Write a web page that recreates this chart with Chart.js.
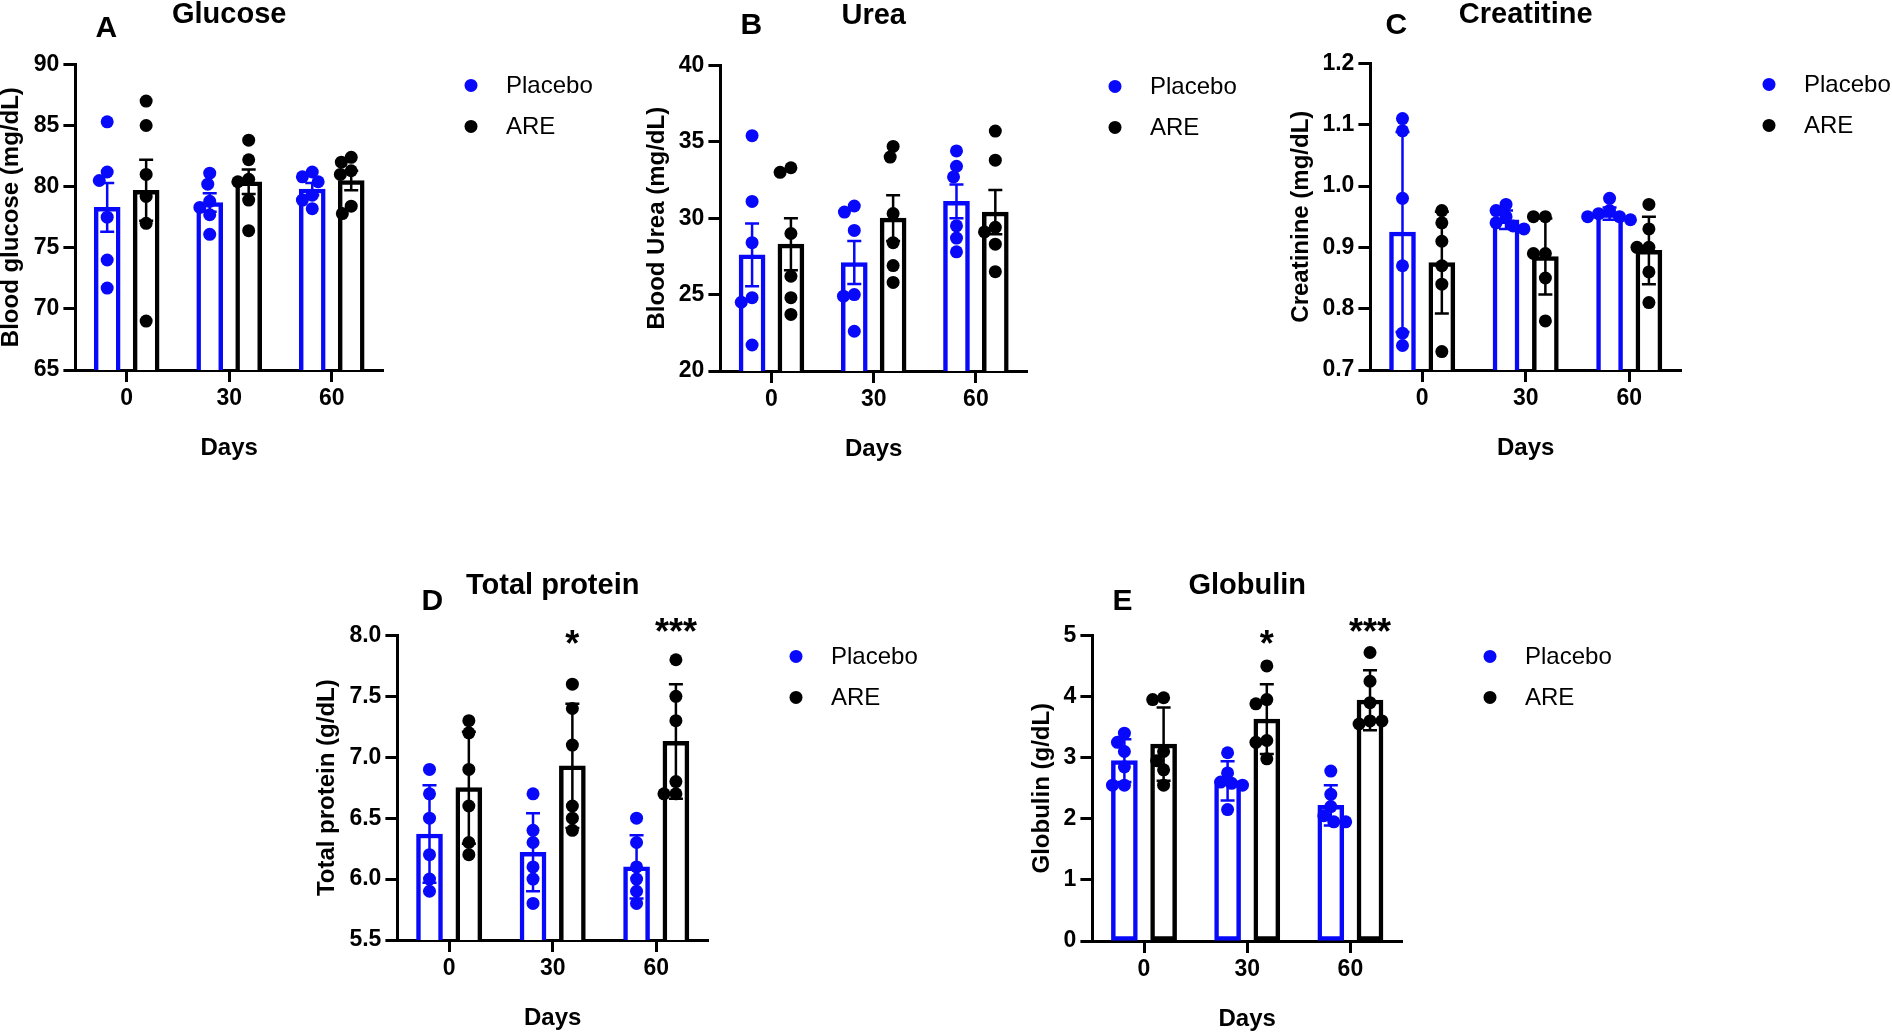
<!DOCTYPE html>
<html>
<head>
<meta charset="utf-8">
<script src="https://cdn.jsdelivr.net/npm/chart.js@4.4.1/dist/chart.umd.min.js"></script>
<style>
  body { margin: 0; background: #fff; }
  #fig { position: relative; width: 1892px; height: 1033px; overflow: hidden; background: #fff; }
  #fig canvas { position: absolute; }
</style>
</head>
<body>
<div id="fig"></div>
<script>
// categories
var days = ['0', '30', '60'];

// A - glucose (mean +/- SEM)
var glucoseMeanPlacebo = [78.3, 78.7, 79.8];
var glucoseErrPlacebo = [2.0, 0.75, 0.5];
var glucoseMeanARE = [79.7, 80.4, 80.5];
var glucoseErrARE = [2.5, 1.0, 0.8];
var glucosePtsPlacebo = [[85.3, 81.2, 80.5, 77.5, 74.0, 71.7], [81.1, 80.2, 78.8, 78.3, 77.7, 76.1], [81.2, 80.8, 80.4, 79.3, 78.9, 78.2]];
var glucosePtsARE = [[87.0, 85.0, 81.0, 79.2, 77.0, 69.0], [83.8, 82.2, 80.6, 80.4, 78.9, 76.4], [82.4, 82.0, 81.3, 81.0, 78.4, 77.8]];

// B - urea
var ureaMeanPlacebo = [27.6, 27.1, 31.1];
var ureaErrPlacebo = [2.05, 1.4, 1.1];
var ureaMeanARE = [28.3, 30.0, 30.4];
var ureaErrARE = [1.7, 1.5, 1.45];
var ureaPtsPlacebo = [[35.4, 31.1, 28.4, 24.8, 24.5, 21.7], [30.8, 30.4, 29.2, 25.0, 24.9, 22.6], [34.4, 33.4, 32.7, 29.5, 28.7, 27.8]];
var ureaPtsARE = [[33.3, 33.0, 29.0, 26.2, 24.8, 23.7], [34.7, 34.0, 30.3, 28.4, 26.9, 25.8], [35.7, 33.8, 29.4, 29.1, 28.3, 26.5]];

// C - creatinine (mean +/- SD)
var creaMeanPlacebo = [0.925, 0.945, 0.955];
var creaErrPlacebo = [0.163, 0.015, 0.01];
var creaMeanARE = [0.875, 0.885, 0.895];
var creaErrARE = [0.083, 0.062, 0.055];
var creaPtsPlacebo = [[1.11, 1.09, 0.98, 0.87, 0.76, 0.74], [0.97, 0.96, 0.95, 0.94, 0.935, 0.93], [0.98, 0.96, 0.955, 0.95, 0.95, 0.945]];
var creaPtsARE = [[0.96, 0.94, 0.91, 0.87, 0.84, 0.73], [0.95, 0.95, 0.89, 0.89, 0.85, 0.78], [0.97, 0.93, 0.90, 0.90, 0.86, 0.81]];

// D - total protein
var protMeanPlacebo = [6.37, 6.22, 6.10];
var protErrPlacebo = [0.40, 0.32, 0.26];
var protMeanARE = [6.75, 6.93, 7.13];
var protErrARE = [0.46, 0.51, 0.47];
var protPtsPlacebo = [[6.9, 6.7, 6.5, 6.2, 6.0, 5.9], [6.7, 6.4, 6.3, 6.1, 6.0, 5.8], [6.5, 6.3, 6.1, 6.0, 5.9, 5.8]];
var protPtsARE = [[7.3, 7.2, 6.9, 6.6, 6.3, 6.2], [7.6, 7.4, 7.1, 6.6, 6.5, 6.4], [7.8, 7.5, 7.3, 6.8, 6.7, 6.7]];
var protStars = ['', '*', '***'];

// E - globulin
var globMeanPlacebo = [2.95, 2.62, 2.22];
var globErrPlacebo = [0.35, 0.32, 0.33];
var globMeanARE = [3.22, 3.63, 3.94];
var globErrARE = [0.60, 0.57, 0.49];
var globPtsPlacebo = [[3.4, 3.25, 3.1, 2.85, 2.55, 2.55], [3.08, 2.75, 2.6, 2.58, 2.55, 2.15], [2.78, 2.4, 2.2, 2.05, 1.95, 1.95]];
var globPtsARE = [[3.98, 3.95, 3.1, 2.95, 2.8, 2.55], [4.5, 3.95, 3.88, 3.28, 3.25, 2.98], [4.72, 4.25, 3.9, 3.6, 3.55, 3.6]];
var globStars = ['', '*', '***'];

var BLUE = 'rgb(8, 8, 250)';
var BLACK = '#000';
var FONT = '"Liberation Sans", Arial, sans-serif';
var SHIFT = 0.19;          // bar centre offset from the day tick, in category units
var BAR_W = 26;
var DOT_R = 6.5;
var TITLE_LH = 29 * 1.2, YTITLE_LH = 24 * 1.2, X_AXIS_H = 93;

Chart.defaults.font.family = FONT;
Chart.defaults.color = '#000';

// spread overlapping dots sideways (rough beeswarm, plot is ~305px tall, a group ~104px wide)
function swarm(values, min, max) {
  var pxPerUnit = 305 / (max - min);
  var placed = [];
  return values.map(function (v) {
    var y = v * pxPerUnit, dx = 0;
    for (var d = 0; d <= 24; d++) {
      var hit = [-d, d].find(function (c) {
        return placed.every(function (p) { return Math.hypot(p.x - c, p.y - y) >= DOT_R * 1.7; });
      });
      if (hit !== undefined) { dx = hit; break; }
    }
    placed.push({ x: dx, y: y });
    return dx / 104;
  });
}

function pointsFor(groups, side, min, max) {
  var out = [];
  groups.forEach(function (vals, i) {
    var offs = swarm(vals, min, max);
    vals.forEach(function (v, k) {
      out.push({ x: i + side * SHIFT + offs[k], y: v });
    });
  });
  return out;
}

function barsFor(means, side) {
  return means.map(function (m, i) { return { x: i + side * SHIFT, y: m }; });
}

var errorBars = {
  id: 'errorBars',
  afterDatasetDraw: function (chart, args) {
    var ds = chart.data.datasets[args.index];
    if (!ds.errors) return;
    var ctx = chart.ctx, y = chart.scales.y;
    ctx.save();
    ctx.strokeStyle = ds.borderColor;
    ctx.lineWidth = 2.5;
    args.meta.data.forEach(function (bar, i) {
      var m = ds.data[i].y;
      var hi = y.getPixelForValue(m + ds.errors[i]);
      var lo = y.getPixelForValue(m - ds.errors[i]);
      ctx.beginPath();
      ctx.moveTo(bar.x, hi); ctx.lineTo(bar.x, lo);
      ctx.moveTo(bar.x - 7, hi); ctx.lineTo(bar.x + 7, hi);
      ctx.moveTo(bar.x - 7, lo); ctx.lineTo(bar.x + 7, lo);
      ctx.stroke();
    });
    ctx.restore();
  }
};

var panelDecor = {
  id: 'panelDecor',
  afterDraw: function (chart, args, opts) {
    var a = chart.chartArea, ctx = chart.ctx;
    ctx.save();
    ctx.fillStyle = '#000';
    ctx.textBaseline = 'middle';
    ctx.textAlign = 'center';
    ctx.font = 'bold 30px ' + FONT;
    ctx.fillText(opts.letter, a.left + opts.letterDx, a.top + opts.letterDy);

    // legend
    ctx.textAlign = 'left';
    ctx.font = '24px ' + FONT;
    chart.data.datasets.filter(function (d) { return d.type === 'scatter'; }).forEach(function (d, k) {
      var cy = a.top + 21 + k * 41;
      ctx.fillStyle = d.backgroundColor;
      ctx.beginPath();
      ctx.arc(a.right + 88, cy, DOT_R, 0, Math.PI * 2);
      ctx.fill();
      ctx.fillStyle = '#000';
      ctx.fillText(d.label, a.right + 123, cy + 1);
    });

    // significance marks over the ARE bars, single star sits a little lower than the triple
    if (opts.stars) {
      var bars = chart.getDatasetMeta(3).data;
      ctx.textAlign = 'center';
      ctx.font = 'bold 36px ' + FONT;
      opts.stars.forEach(function (s, i) {
        if (!s) return;
        ctx.fillText(s, bars[i].x, a.top + (s.length > 1 ? -1 : 11));
      });
    }
    ctx.restore();
  }
};

var panels = [
  { letter: 'A', title: 'Glucose', yTitle: 'Blood glucose (mg/dL)', min: 65, max: 90, step: 5, dec: 0,
    mP: glucoseMeanPlacebo, eP: glucoseErrPlacebo, pP: glucosePtsPlacebo,
    mA: glucoseMeanARE, eA: glucoseErrARE, pA: glucosePtsARE, stars: null,
    g: { axisX: 75, right: 383, top: 64, bottom: 370, titleY: 15, yTitleX: 11, canvasRight: 636, letterDx: 31, letterDy: -36 } },
  { letter: 'B', title: 'Urea', yTitle: 'Blood Urea (mg/dL)', min: 20, max: 40, step: 5, dec: 0,
    mP: ureaMeanPlacebo, eP: ureaErrPlacebo, pP: ureaPtsPlacebo,
    mA: ureaMeanARE, eA: ureaErrARE, pA: ureaPtsARE, stars: null,
    g: { axisX: 720, right: 1027, top: 65, bottom: 371, titleY: 16, yTitleX: 657, canvasRight: 1280, letterDx: 31, letterDy: -40 } },
  { letter: 'C', title: 'Creatitine', yTitle: 'Creatinine (mg/dL)', min: 0.7, max: 1.2, step: 0.1, dec: 1,
    mP: creaMeanPlacebo, eP: creaErrPlacebo, pP: creaPtsPlacebo,
    mA: creaMeanARE, eA: creaErrARE, pA: creaPtsARE, stars: null,
    g: { axisX: 1370, right: 1681, top: 63, bottom: 370, titleY: 15, yTitleX: 1301, canvasRight: 1892, letterDx: 26, letterDy: -38 } },
  { letter: 'D', title: 'Total protein', yTitle: 'Total protein (g/dL)', min: 5.5, max: 8.0, step: 0.5, dec: 1,
    mP: protMeanPlacebo, eP: protErrPlacebo, pP: protPtsPlacebo,
    mA: protMeanARE, eA: protErrARE, pA: protPtsARE, stars: protStars,
    g: { axisX: 397, right: 708, top: 635, bottom: 940, titleY: 586, yTitleX: 327, canvasRight: 1020, letterDx: 35, letterDy: -34 } },
  { letter: 'E', title: 'Globulin', yTitle: 'Globulin (g/dL)', min: 0, max: 5, step: 1, dec: 0,
    mP: globMeanPlacebo, eP: globErrPlacebo, pP: globPtsPlacebo,
    mA: globMeanARE, eA: globErrARE, pA: globPtsARE, stars: globStars,
    g: { axisX: 1092, right: 1402, top: 635, bottom: 941, titleY: 586, yTitleX: 1042, canvasRight: 1892, letterDx: 30, letterDy: -34 } }
];

panels.forEach(function (p) {
  var g = p.g;
  var left = g.yTitleX - YTITLE_LH / 2;
  var top = g.titleY - TITLE_LH / 2;
  var w = Math.round(g.canvasRight - left), h = Math.round(g.bottom + X_AXIS_H - top);
  var canvas = document.createElement('canvas');
  canvas.width = w; canvas.height = h;
  canvas.style.left = left + 'px'; canvas.style.top = top + 'px';
  canvas.style.width = w + 'px'; canvas.style.height = h + 'px';
  document.getElementById('fig').appendChild(canvas);

  var tickFont = { size: 23, weight: 'bold' };
  var titleFont = { size: 24, weight: 'bold' };
  var barStyle = { type: 'bar', xAxisID: 'xs', order: 1, grouped: false, barThickness: BAR_W,
    backgroundColor: '#fff', borderWidth: 4.5, borderSkipped: false };

  new Chart(canvas, {
    type: 'bar',
    data: {
      labels: days,
      datasets: [
        { type: 'scatter', label: 'Placebo', xAxisID: 'xs', order: 0, grouped: false,
          data: pointsFor(p.pP, -1, p.min, p.max),
          backgroundColor: BLUE, borderWidth: 0, pointRadius: DOT_R },
        { type: 'scatter', label: 'ARE', xAxisID: 'xs', order: 0, grouped: false,
          data: pointsFor(p.pA, 1, p.min, p.max),
          backgroundColor: BLACK, borderWidth: 0, pointRadius: DOT_R },
        Object.assign({ label: 'Placebo mean', data: barsFor(p.mP, -1), errors: p.eP, borderColor: BLUE }, barStyle),
        Object.assign({ label: 'ARE mean', data: barsFor(p.mA, 1), errors: p.eA, borderColor: BLACK }, barStyle)
      ]
    },
    options: {
      responsive: false,
      animation: false,
      devicePixelRatio: 1,
      events: [],
      layout: { padding: { left: 0, top: 0, bottom: 0, right: g.canvasRight - g.right } },
      plugins: {
        legend: { display: false },
        tooltip: { enabled: false },
        title: {
          display: true, text: p.title, fullSize: false, color: '#000',
          font: { size: 29, weight: 'bold' },
          padding: { top: 0, bottom: g.top - top - TITLE_LH }
        },
        panelDecor: { letter: p.letter, letterDx: g.letterDx, letterDy: g.letterDy, stars: p.stars }
      },
      scales: {
        x: {
          type: 'category', offset: true,
          grid: { offset: false, drawOnChartArea: false, tickLength: 12, tickWidth: 3, tickColor: '#000' },
          border: { color: '#000', width: 3 },
          ticks: { color: '#000', font: tickFont, padding: 3 },
          title: { display: true, text: 'Days', color: '#000', font: titleFont, padding: 0 },
          afterFit: function (s) { s.height = X_AXIS_H; }
        },
        xs: { type: 'linear', display: false, offset: false, min: -0.5, max: 2.5 },
        y: {
          min: p.min, max: p.max,
          grid: { drawOnChartArea: false, tickLength: 12, tickWidth: 3, tickColor: '#000' },
          border: { color: '#000', width: 3 },
          ticks: { stepSize: p.step, color: '#000', font: tickFont, padding: 4,
            callback: function (v) { return Number(v).toFixed(p.dec); } },
          title: { display: true, text: p.yTitle, color: '#000', font: titleFont, padding: 0 },
          afterFit: function (s) { s.width = g.axisX - left; }
        }
      }
    },
    plugins: [errorBars, panelDecor]
  });
});
</script>
</body>
</html>
